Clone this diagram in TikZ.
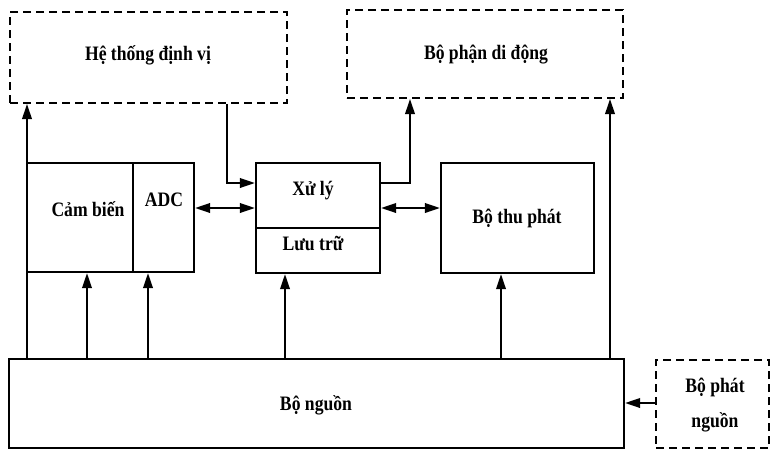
\documentclass[tikz,border=0pt]{standalone}
\usepackage{fontspec}
\setmainfont{Liberation Serif}
\newfontfamily\labelfont[FakeStretch=0.86]{Liberation Serif}
\usetikzlibrary{arrows.meta}
\begin{document}
\begin{tikzpicture}[x=1pt,y=-1pt,
  font=\labelfont\fontsize{20.5}{24}\selectfont\bfseries,
  box/.style={draw,line width=2.2pt,rectangle,inner sep=0pt},
  dbox/.style={draw,line width=2pt,rectangle,inner sep=0pt,dash pattern=on 8pt off 5pt},
  lbl/.style={inner sep=0pt},
  conn/.style={line width=2pt},
  tip/.style={},
  arr/.style={conn,-{Triangle[length=15pt,width=9.5pt]}},
  darr/.style={conn,{Triangle[length=15pt,width=9.5pt]}-{Triangle[length=15pt,width=9.5pt]}}]
\useasboundingbox (0,0) rectangle (773,450);

% dashed external blocks
\node[dbox,minimum width=277pt,minimum height=91pt] (htdv) at (148.5,57.5) {};
\node[lbl] (htdvT) at (148,55) {Hệ thống định vị};
\node[dbox,minimum width=276pt,minimum height=88pt] (bpdd) at (485,54) {};
\node[lbl] (bpddT) at (486,55) {Bộ phận di động};
\node[dbox,minimum width=113pt,minimum height=88pt] (bpn) at (712.5,404) {};
\node[lbl] (bpnT1) at (715,387) {Bộ phát};
\node[lbl] (bpnT2) at (715,422) {nguồn};

% node internals
\node[box,minimum width=106pt,minimum height=109pt] (cb) at (80,217.5) {};
\node[lbl] (cbT) at (88,209) {Cảm biến};
\node[box,minimum width=61pt,minimum height=109pt] (adc) at (163.5,217.5) {};
\node[lbl] (adcT) at (164,200) {ADC};
\node[box,minimum width=124pt,minimum height=65pt] (xl) at (318,195.5) {};
\node[lbl] (xlT) at (313,191) {Xử lý};
\node[box,minimum width=124pt,minimum height=45pt] (lt) at (318,250.5) {};
\node[lbl] (ltT) at (313,243) {Lưu trữ};
\node[box,minimum width=153pt,minimum height=110pt] (btp) at (517.5,218) {};
\node[lbl] (btpT) at (517,218) {Bộ thu phát};
\node[box,minimum width=615pt,minimum height=89pt] (bn) at (316.5,403.5) {};
\node[lbl] (bnT) at (316,405) {Bộ nguồn};

% reference x positions of the vertical feeds
\coordinate (xL) at (27,0);
\coordinate (xCb) at (87,0);
\coordinate (xAdc) at (148,0);
\coordinate (xLt) at (285,0);
\coordinate (xBtp) at (501,0);
\coordinate (xR) at (610,0);
\coordinate (xIn) at (227,0);
\coordinate (xOut) at (410,0);
\coordinate (yCtl) at (0,183);
\coordinate (yBus) at (0,208);
\coordinate (yPwr) at (0,403);

% power distribution
\draw[arr] (bn.north -| xL) -- (htdv.south -| xL);
\draw[arr] (bn.north -| xCb) -- (cb.south -| xCb);
\draw[arr] (bn.north -| xAdc) -- (adc.south -| xAdc);
\draw[arr] (bn.north -| xLt) -- (lt.south -| xLt);
\draw[arr] (bn.north -| xBtp) -- (btp.south -| xBtp);
\draw[arr] (bn.north -| xR) -- (bpdd.south -| xR);
\draw[arr] (bpn.west |- yPwr) -- (bn.east |- yPwr);

% data paths
\draw[arr] (htdv.south -| xIn) |- (xl.west |- yCtl);
\draw[arr] (xl.east |- yCtl) -| (bpdd.south -| xOut);
\draw[darr] (adc.east |- yBus) -- (xl.west |- yBus);
\draw[darr] (xl.east |- yBus) -- (btp.west |- yBus);
\end{tikzpicture}
\end{document}
